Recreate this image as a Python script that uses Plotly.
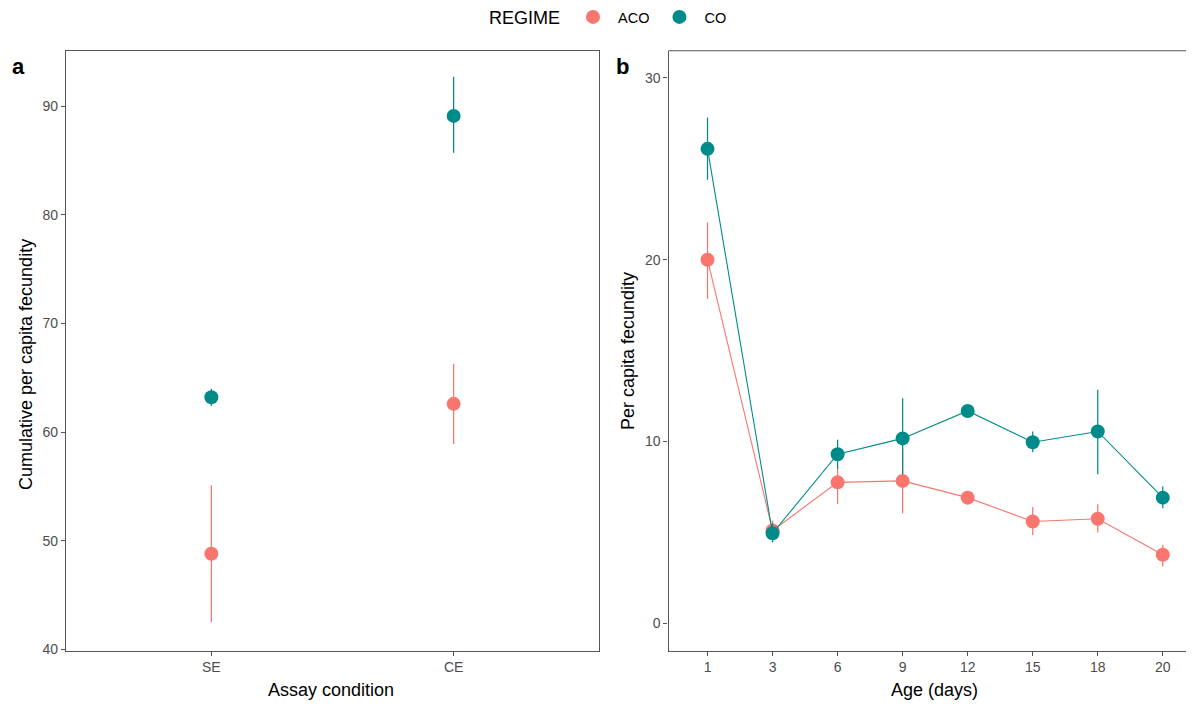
import plotly.graph_objects as go

# ---------------- data ----------------
regimes = ["ACO", "CO"]
colors = {"ACO": "#F8766D", "CO": "#008B8B"}

# Panel a: cumulative per capita fecundity
assay = ["SE", "CE"]
cum_mean = {"ACO": [48.8, 62.6], "CO": [63.2, 89.1]}
cum_upper = {"ACO": [55.1, 66.3], "CO": [64.0, 92.7]}
cum_lower = {"ACO": [42.5, 58.9], "CO": [62.4, 85.7]}

# Panel b: per capita fecundity by age
ages = ["1", "3", "6", "9", "12", "15", "18", "20"]
age_mean = {"ACO": [20.0, 5.1, 7.75, 7.83, 6.91, 5.6, 5.75, 3.77],
            "CO":  [26.1, 4.95, 9.3, 10.17, 11.68, 9.96, 10.55, 6.91]}
age_upper = {"ACO": [22.05, 5.65, 8.6, 9.6, 7.28, 6.4, 6.55, 4.31],
             "CO":  [27.83, 5.5, 10.1, 12.38, 11.95, 10.55, 12.84, 7.52]}
age_lower = {"ACO": [17.85, 4.55, 6.55, 6.05, 6.55, 4.86, 4.99, 3.12],
             "CO":  [24.4, 4.44, 8.5, 8.2, 11.42, 9.41, 8.2, 6.33]}

# page has an 8px body margin: figure drawn at (8,8)
OFF = 8
W, H = 1194 - OFF, 704 - OFF
fig = go.Figure()

def px_x(p):
    return (p - OFF) / W

def px_y(p):
    return 1 - (p - OFF) / H

FONT = "Liberation Sans, Arial, sans-serif"

for r in regimes:
    fig.add_trace(go.Scatter(
        x=assay, y=cum_mean[r], mode="markers", name=r,
        marker=dict(color=colors[r], size=14),
        error_y=dict(type="data", symmetric=False,
                     array=[u - m for u, m in zip(cum_upper[r], cum_mean[r])],
                     arrayminus=[m - l for l, m in zip(cum_lower[r], cum_mean[r])],
                     color=colors[r], thickness=1.25, width=0),
        xaxis="x", yaxis="y", showlegend=True, legendgroup=r))

for r in regimes:
    fig.add_trace(go.Scatter(
        x=ages, y=age_mean[r], mode="lines+markers", name=r,
        line=dict(color=colors[r], width=1.1),
        marker=dict(color=colors[r], size=14),
        error_y=dict(type="data", symmetric=False,
                     array=[u - m for u, m in zip(age_upper[r], age_mean[r])],
                     arrayminus=[m - l for l, m in zip(age_lower[r], age_mean[r])],
                     color=colors[r], thickness=1.25, width=0),
        xaxis="x2", yaxis="y2", showlegend=False, legendgroup=r))

tickfont = dict(family=FONT, size=14, color="#4D4D4D")
axline = dict(showline=True, linecolor="#555555", linewidth=1.1, ticks="outside",
              ticklen=4, tickcolor="#555555", showgrid=False, zeroline=False,
              tickfont=tickfont)

ya_dom = [px_y(650.5), px_y(50.7)]
fig.update_layout(
    width=W, height=H, margin=dict(l=0, r=0, t=0, b=0, autoexpand=False),
    paper_bgcolor="white", plot_bgcolor="white",
    font=dict(family=FONT, color="black"),
    xaxis=dict(domain=[px_x(66), px_x(599)], type="category", range=[-0.6, 1.6],
               mirror=True, anchor="y", **axline),
    yaxis=dict(domain=ya_dom, range=[39.9, 95.1], tickvals=[40, 50, 60, 70, 80, 90],
               mirror=True, anchor="x", **axline),
    xaxis2=dict(domain=[px_x(668.5), 1.0], type="category", range=[-0.6, 7.48],
                anchor="y2", **axline),
    yaxis2=dict(domain=ya_dom, range=[-1.5, 31.5], tickvals=[0, 10, 20, 30],
                anchor="x2", **axline),
    legend=dict(orientation="h", x=px_x(487), xanchor="left", y=px_y(18), yanchor="middle",
                title=dict(text="REGIME", font=dict(size=18, color="black"), side="left"),
                font=dict(size=14.5, color="black"), itemwidth=40),
)

# top border of panel b (its right edge lies outside the picture)
fig.add_shape(type="line", xref="paper", yref="paper",
              x0=px_x(668.5), x1=1.0, y0=ya_dom[1], y1=ya_dom[1],
              line=dict(color="#555555", width=1.1))

ann = [
    dict(text="<b>a</b>", x=px_x(18), y=px_y(66), font=dict(size=22)),
    dict(text="<b>b</b>", x=px_x(622), y=px_y(66), font=dict(size=22)),
    dict(text="Assay condition", x=px_x(331), y=px_y(690), font=dict(size=18)),
    dict(text="Age (days)", x=px_x(934), y=px_y(690), font=dict(size=18)),
    dict(text="Cumulative per capita fecundity", x=px_x(26), y=px_y(365),
         textangle=-90, font=dict(size=18)),
    dict(text="Per capita fecundity", x=px_x(628), y=px_y(351),
         textangle=-90, font=dict(size=18)),
]
for a in ann:
    fig.add_annotation(xref="paper", yref="paper", showarrow=False,
                       xanchor="center", yanchor="middle", **a)

fig.write_html("out.html")
